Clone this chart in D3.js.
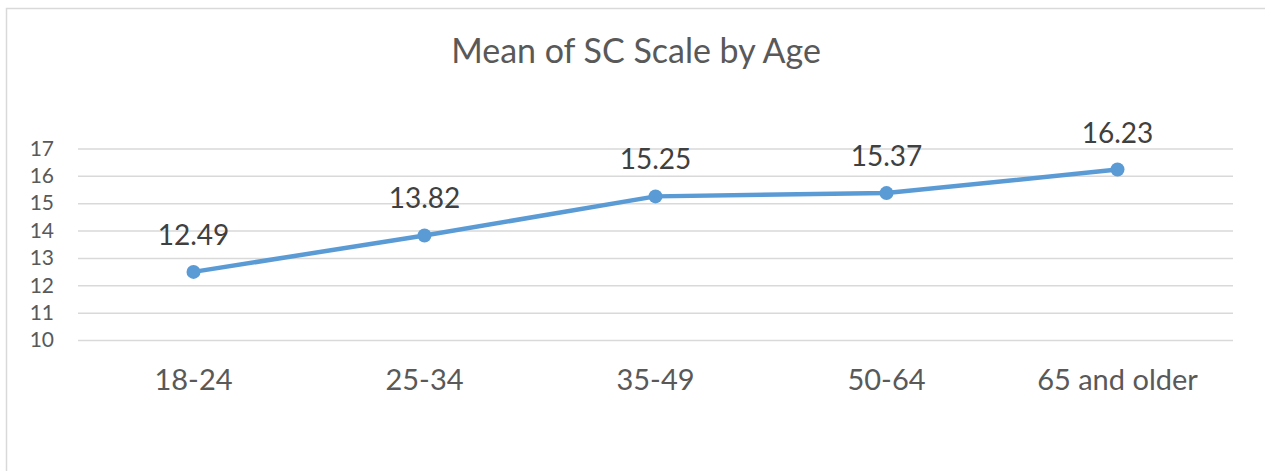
<!DOCTYPE html>
<html>
<head>
<meta charset="utf-8">
<script src="https://cdn.jsdelivr.net/npm/d3@7"></script>
<style>
  body { margin: 0; background: #fff; }
  svg { display: block; font-family: Lato, "Open Sans", sans-serif; }
</style>
</head>
<body>
<svg id="mainsvg" width="1265" height="471"></svg>
<script>
const ageGroups = ['18-24', '25-34', '35-49', '50-64', '65 and older'];
const meanValues = [12.49, 13.82, 15.25, 15.37, 16.23];
const yTicks = [10, 11, 12, 13, 14, 15, 16, 17];

const svg = d3.select('#mainsvg');
const width = +svg.attr('width');
const height = +svg.attr('height');
const margin = {top: 148.5, right: 32, bottom: 131, left: 78};
const font = 'Lato, "Open Sans", sans-serif';

// chart frame
svg.append('rect')
  .attr('x', 6.5).attr('y', 8.5)
  .attr('width', 1280).attr('height', 500)
  .attr('fill', 'none')
  .attr('stroke', '#d9d9d9')
  .attr('stroke-width', 1.5);

// title
svg.append('text')
  .attr('x', 636).attr('y', 63)
  .attr('text-anchor', 'middle')
  .style('font-size', '34px')
  .style('fill', '#595959')
  .text('Mean of SC Scale by Age');

const xScale = d3.scaleBand()
  .domain(ageGroups)
  .range([margin.left, width - margin.right]);

const yScale = d3.scaleLinear()
  .domain([10, 17])
  .range([height - margin.bottom, margin.top]);

// gridlines + y labels
const yAxis = svg.append('g')
  .attr('transform', `translate(${margin.left},0)`)
  .call(d3.axisLeft(yScale).tickValues(yTicks).tickFormat(d3.format('d'))
    .tickSize(-(width - margin.left - margin.right)).tickPadding(24));
yAxis.select('.domain').remove();
yAxis.selectAll('.tick line').attr('stroke', '#d9d9d9').attr('stroke-width', 1.5);
yAxis.selectAll('.tick text')
  .style('font-size', '21px')
  .style('font-family', font)
  .attr('fill', '#595959');

// x labels
const xAxis = svg.append('g')
  .attr('transform', `translate(0,${height - margin.bottom})`)
  .call(d3.axisBottom(xScale).tickSize(0).tickPadding(0));
xAxis.select('.domain').remove();
xAxis.selectAll('.tick text')
  .attr('dy', null)
  .attr('y', 50)
  .style('font-size', '29px')
  .style('font-family', font)
  .attr('fill', '#595959');

const cx = d => xScale(d) + xScale.bandwidth() / 2;

const line = d3.line()
  .x((d, i) => cx(ageGroups[i]))
  .y(d => yScale(d));

svg.append('path')
  .datum(meanValues)
  .attr('d', line)
  .attr('fill', 'none')
  .attr('stroke', '#5b9bd5')
  .attr('stroke-width', 4.5)
  .attr('stroke-linejoin', 'round');

svg.selectAll('.dot')
  .data(meanValues)
  .join('circle')
  .attr('class', 'dot')
  .attr('cx', (d, i) => cx(ageGroups[i]))
  .attr('cy', d => yScale(d))
  .attr('r', 7)
  .attr('fill', '#5b9bd5');

svg.selectAll('.val')
  .data(meanValues)
  .join('text')
  .attr('class', 'val')
  .attr('x', (d, i) => cx(ageGroups[i]))
  .attr('y', d => yScale(d) - 27)
  .attr('text-anchor', 'middle')
  .style('font-size', '28px')
  .style('fill', '#404040')
  .text(d => d.toFixed(2));
</script>
</body>
</html>
